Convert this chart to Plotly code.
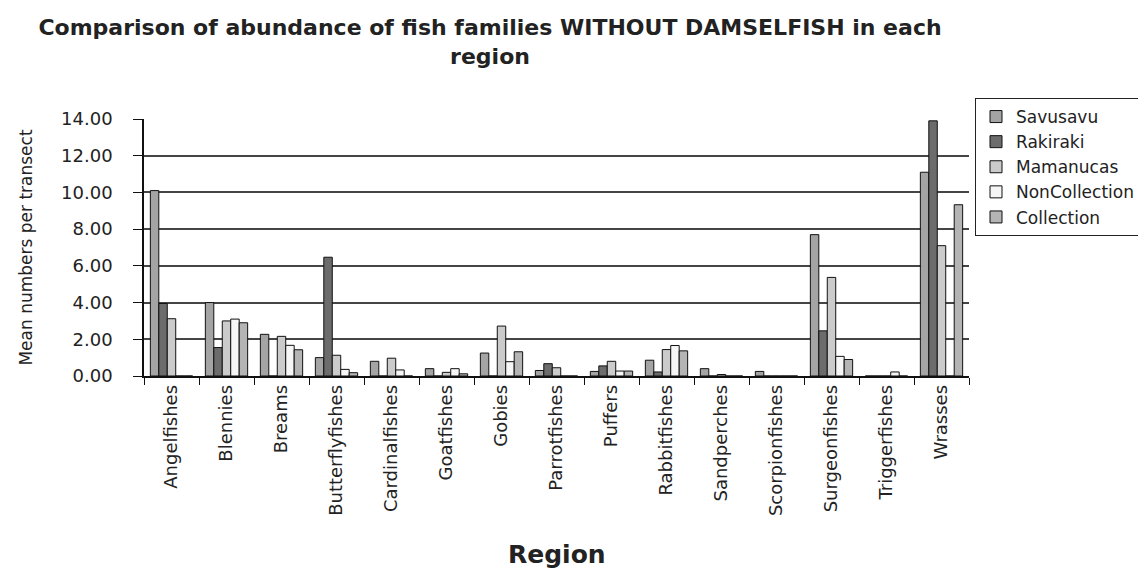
import plotly.graph_objects as go

categories = ["Angelfishes", "Blennies", "Breams", "Butterflyfishes", "Cardinalfishes",
              "Goatfishes", "Gobies", "Parrotfishes", "Puffers", "Rabbitfishes",
              "Sandperches", "Scorpionfishes", "Surgeonfishes", "Triggerfishes", "Wrasses"]

savusavu = [10.1, 4.0, 2.27, 1.0, 0.8, 0.4, 1.25, 0.3, 0.25, 0.86, 0.4, 0.25, 7.7, 0, 11.1]
rakiraki = [3.95, 1.55, 0, 6.47, 0, 0, 0, 0.67, 0.55, 0.22, 0, 0, 2.46, 0, 13.9]
mamanucas = [3.12, 3.0, 2.16, 1.13, 0.97, 0.2, 2.72, 0.45, 0.8, 1.44, 0.08, 0, 5.37, 0, 7.1]
noncollection = [0, 3.1, 1.67, 0.36, 0.33, 0.4, 0.78, 0, 0.27, 1.66, 0, 0, 1.07, 0.22, 0]
collection = [0, 2.9, 1.43, 0.18, 0, 0.12, 1.32, 0, 0.27, 1.37, 0, 0, 0.9, 0, 9.33]

series = [
    ("Savusavu", savusavu, "#a4a4a4"),
    ("Rakiraki", rakiraki, "#6c6c6c"),
    ("Mamanucas", mamanucas, "#cbcbcb"),
    ("NonCollection", noncollection, "#f6f6f6"),
    ("Collection", collection, "#b4b4b4"),
]

y_ticks = [0, 2, 4, 6, 8, 10, 12, 14]
y_labels = ["%.2f" % v for v in y_ticks]

FONT = "DejaVu Sans, Arial, sans-serif"
TXT = "#222222"

fig = go.Figure()
for i, (name, vals, col) in enumerate(series):
    fig.add_trace(go.Bar(
        name=name, x=categories, y=vals,
        marker=dict(color=col, line=dict(color="#111111", width=1)),
    ))

W, H = 1146, 570
L, R, T, B = 136, 185, 111, 202
pw, ph = W - L - R, H - T - B

fig.update_layout(
    width=W, height=H,
    margin=dict(l=L, r=R, t=T, b=B, autoexpand=False),
    paper_bgcolor="white", plot_bgcolor="white",
    barmode="group", bargap=1.5 / 6.5, bargroupgap=0,
    font=dict(family=FONT, color=TXT, size=17),
    title=dict(
        text="Comparison of abundance of fish families WITHOUT DAMSELFISH in each<br>region",
        font=dict(family=FONT, size=22, color=TXT, weight="bold"),
        x=482 / W, xanchor="center", y=1 - 27 / H, yanchor="middle",
    ),
    legend=dict(
        x=(967 - L) / pw, xanchor="left",
        y=1 + (T - 90) / ph, yanchor="top",
        bordercolor="#222222", borderwidth=1, bgcolor="white",
        font=dict(family=FONT, size=17, color=TXT),
        traceorder="normal",
        itemclick=False,
    ),
    xaxis=dict(
        type="category", tickangle=-90,
        ticks="outside", tickson="boundaries", ticklen=7, tickcolor="#111111",
        showline=True, linecolor="#111111", linewidth=1.5,
        showgrid=False,
        tickfont=dict(family=FONT, size=18, color=TXT),
        automargin=False,
    ),
    yaxis=dict(
        range=[0, 14], tickvals=y_ticks, ticktext=y_labels,
        ticks="outside", ticklen=9, tickcolor="#111111",
        showline=True, linecolor="#111111", linewidth=1.5,
        showgrid=True, gridcolor="#454545", gridwidth=1.6,
        zeroline=False,
        tickfont=dict(family=FONT, size=18, color=TXT),
        ticklabelstandoff=17,
        title=dict(text="Mean numbers per transect",
                   font=dict(family=FONT, size=17, color=TXT), standoff=24),
        automargin=False,
    ),
    annotations=[
        dict(text="<b>Region</b>", xref="paper", yref="paper",
             x=0.5, y=(H - B - 546) / ph, xanchor="center", yanchor="middle",
             showarrow=False, font=dict(family=FONT, size=25, color=TXT)),
    ],
)

fig.write_html("out.html")
